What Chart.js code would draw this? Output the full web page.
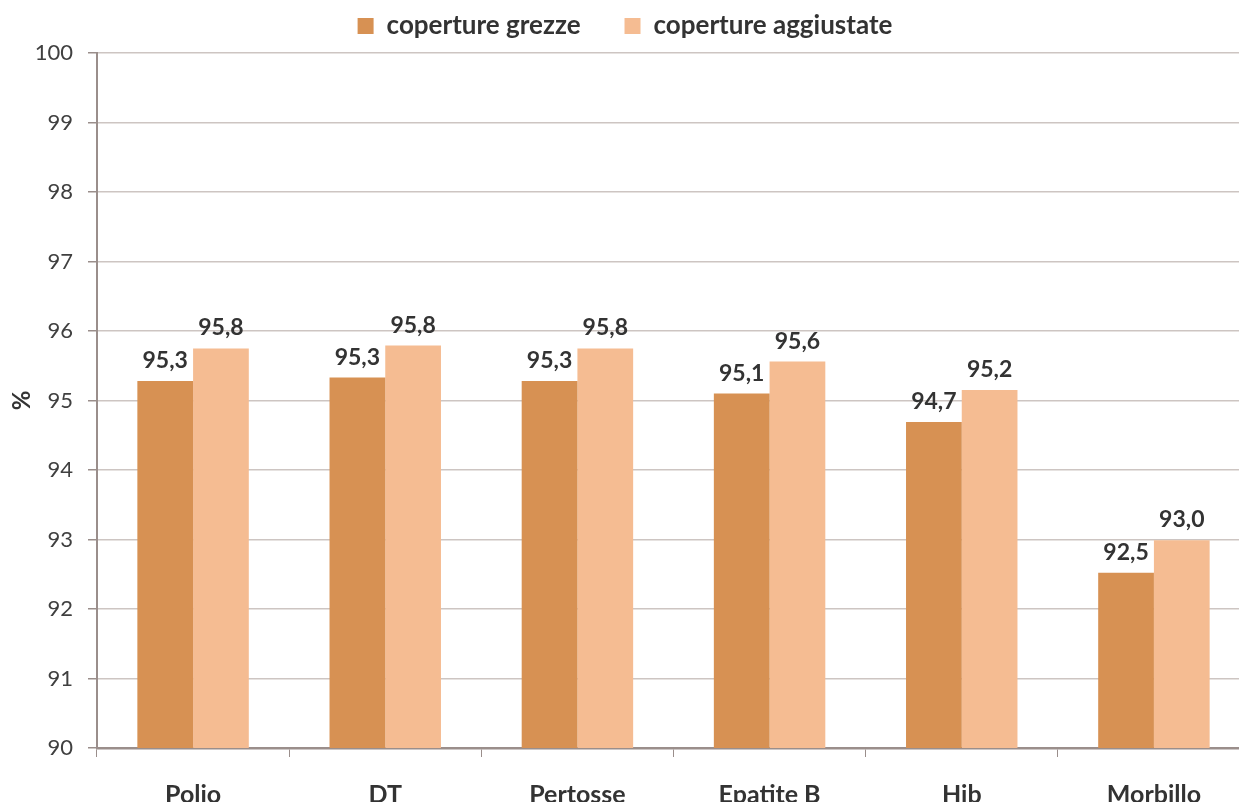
<!DOCTYPE html>
<html>
<head>
<meta charset="utf-8">
<script src="https://cdn.jsdelivr.net/npm/chart.js@4/dist/chart.umd.min.js"></script>
<style>
  html, body { margin: 0; padding: 0; background: #fff; overflow: hidden; }
  #wrap { width: 1250px; height: 802px; position: relative; }
</style>
</head>
<body>
<div id="wrap"><canvas id="chart"></canvas></div>
<script>
// categorie e valori
const categories = ["Polio", "DT", "Pertosse", "Epatite B", "Hib", "Morbillo"];
const grezze = [95.28, 95.33, 95.28, 95.10, 94.69, 92.52];
const aggiustate = [95.75, 95.79, 95.75, 95.56, 95.15, 92.99];
const grezzeLabels = ["95,3", "95,3", "95,3", "95,1", "94,7", "92,5"];
const aggiustateLabels = ["95,8", "95,8", "95,8", "95,6", "95,2", "93,0"];
const yTicks = [90, 91, 92, 93, 94, 95, 96, 97, 98, 99, 100];

const textColor = "#333333";
const gridColor = "#cdc5c2";
const axisColor = "#9a8e8b";

// etichette sopra le barre
const barLabels = {
  id: "barLabels",
  afterDatasetsDraw(chart) {
    const ctx = chart.ctx;
    ctx.save();
    ctx.font = "bold 23px Lato";
    ctx.fillStyle = textColor;
    ctx.textAlign = "center";
    ctx.textBaseline = "alphabetic";
    chart.data.datasets.forEach((ds, i) => {
      const meta = chart.getDatasetMeta(i);
      meta.data.forEach((bar, j) => {
        ctx.fillText(ds.valueLabels[j], bar.x, bar.y - 13);
      });
    });
    ctx.restore();
  },
};

// un po' di spazio in più sotto la legenda
const legendGap = {
  id: "legendGap",
  afterInit(chart) {
    const lg = chart.legend;
    if (!lg) return;
    const origFit = lg.fit;
    lg.fit = function () {
      origFit.call(this);
      this.height += 4;
    };
  },
};

const ctx = document.getElementById("chart").getContext("2d");
new Chart(ctx, {
  type: "bar",
  data: {
    labels: categories,
    datasets: [
      {
        label: "coperture grezze",
        data: grezze,
        valueLabels: grezzeLabels,
        backgroundColor: "#d79153",
        barPercentage: 1.0,
        categoryPercentage: 0.58,
      },
      {
        label: "coperture aggiustate",
        data: aggiustate,
        valueLabels: aggiustateLabels,
        backgroundColor: "#f5bc92",
        barPercentage: 1.0,
        categoryPercentage: 0.58,
      },
    ],
  },
  options: {
    responsive: true,
    maintainAspectRatio: false,
    animation: false,
    layout: { padding: { top: -31, left: 0, right: 0, bottom: 0 } },
    plugins: {
      legend: {
        display: true,
        position: "top",
        labels: {
          color: textColor,
          boxWidth: 16,
          boxHeight: 16,
          padding: 44,
          font: { family: "Lato", size: 26, weight: "bold" },
        },
      },
      tooltip: { enabled: false },
    },
    scales: {
      y: {
        min: 90,
        max: 100,
        afterFit(axis) { axis.width = 97; },
        afterBuildTicks(axis) { axis.ticks = yTicks.map((v) => ({ value: v })); },
        title: {
          display: true,
          text: "%",
          color: textColor,
          padding: { top: 8, bottom: 4 },
          font: { family: "Lato", size: 24, weight: "bold" },
        },
        grid: { color: gridColor, lineWidth: 1.5, tickLength: 9, tickColor: axisColor },
        border: { color: axisColor, width: 2 },
        ticks: {
          color: "#404040",
          padding: 15,
          font: { family: "Lato", size: 22 },
        },
      },
      x: {
        afterFit(axis) { axis.height = 54; },
        grid: {
          display: true,
          drawOnChartArea: false,
          drawTicks: true,
          tickLength: 9,
          color: axisColor,
          offset: true,
        },
        border: { color: axisColor, width: 2.5 },
        ticks: {
          color: textColor,
          padding: 23,
          font: { family: "Lato", size: 25, weight: "bold" },
        },
      },
    },
  },
  plugins: [barLabels, legendGap],
});
</script>
</body>
</html>
